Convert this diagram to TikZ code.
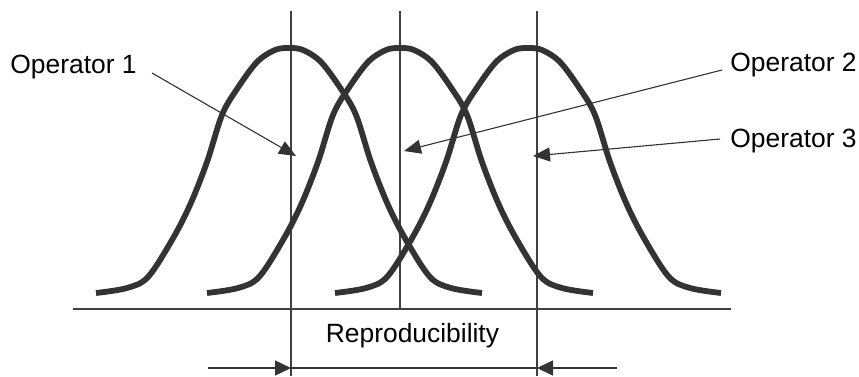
\documentclass[tikz,border=0pt]{standalone}
\usepackage{fontspec}
\setmainfont{Liberation Sans}
\usetikzlibrary{arrows.meta}
\definecolor{ink}{HTML}{333333}
\definecolor{lineink}{HTML}{404040}
\tikzset{
  curve/.style={draw=ink, line width=2.9pt, line cap=butt, line join=round},
  guide/.style={draw=lineink, line width=0.65pt},
  pointer/.style={draw=ink, line width=0.55pt, -{Triangle[length=8.5pt,width=7pt]}},
  dimarrow/.style={draw=ink, line width=0.7pt, -{Triangle[length=8pt,width=7.5pt]}},
  dimline/.style={draw=ink, line width=0.9pt},
  lbl/.style={inner sep=0pt, font=\fontsize{13.2}{15}\selectfont, text=black}
}
\begin{document}
\begin{tikzpicture}[x=0.5pt, y=-0.5pt]
\useasboundingbox (0,0) rectangle (859,376);
% guide lines
\coordinate (v1t) at (291,11); \coordinate (v1b) at (291,376);
\coordinate (v2t) at (400,11); \coordinate (v2b) at (400,309);
\coordinate (v3t) at (537,11); \coordinate (v3b) at (537,376);
\coordinate (axl) at (73,309); \coordinate (axr) at (731,309);
\draw[guide] (axl) -- (axr);
\draw[guide] (v1t) -- (v1b);
\draw[guide] (v2t) -- (v2b);
\draw[guide] (v3t) -- (v3b);
% bell curves
\foreach \c in {289,400,528}{
  \draw[curve, shift={(\c,0)}] plot[smooth, tension=0.55] coordinates {
    (-193,293) (-162,288) (-141,277) (-117,240) (-99,205) (-82,162) (-67,115)
    (-52,89) (-32,62) (-14,50) (0,48) (14,50) (32,62) (52,89) (67,115)
    (82,162) (99,205) (117,240) (141,277) (162,288) (193,293)};
}
% labels
\node[lbl, anchor=base west] (op1) at (10,73) {Operator 1};
\node[lbl, anchor=base west] (op2) at (730,71) {Operator 2};
\node[lbl, anchor=base west] (op3) at (730,147) {Operator 3};
\node[lbl, anchor=base] (rep) at (412.5,342) {Reproducibility};
% pointers
\coordinate (p1s) at (152,73); \coordinate (p1e) at (296,156);
\coordinate (p2s) at (722,70); \coordinate (p2e) at (404,151);
\coordinate (p3s) at (720,139); \coordinate (p3e) at (533,156);
\draw[pointer] (p1s) -- (p1e);
\draw[pointer] (p2s) -- (p2e);
\draw[pointer] (p3s) -- (p3e);
% dimension line
\coordinate (dl) at (208,368); \coordinate (dla) at (291,368);
\coordinate (dr) at (617,368); \coordinate (dra) at (537,368);
\draw[dimline] (dla) -- (dra);
\draw[dimarrow] (dl) -- (dla);
\draw[dimarrow] (dr) -- (dra);
\end{tikzpicture}
\end{document}
